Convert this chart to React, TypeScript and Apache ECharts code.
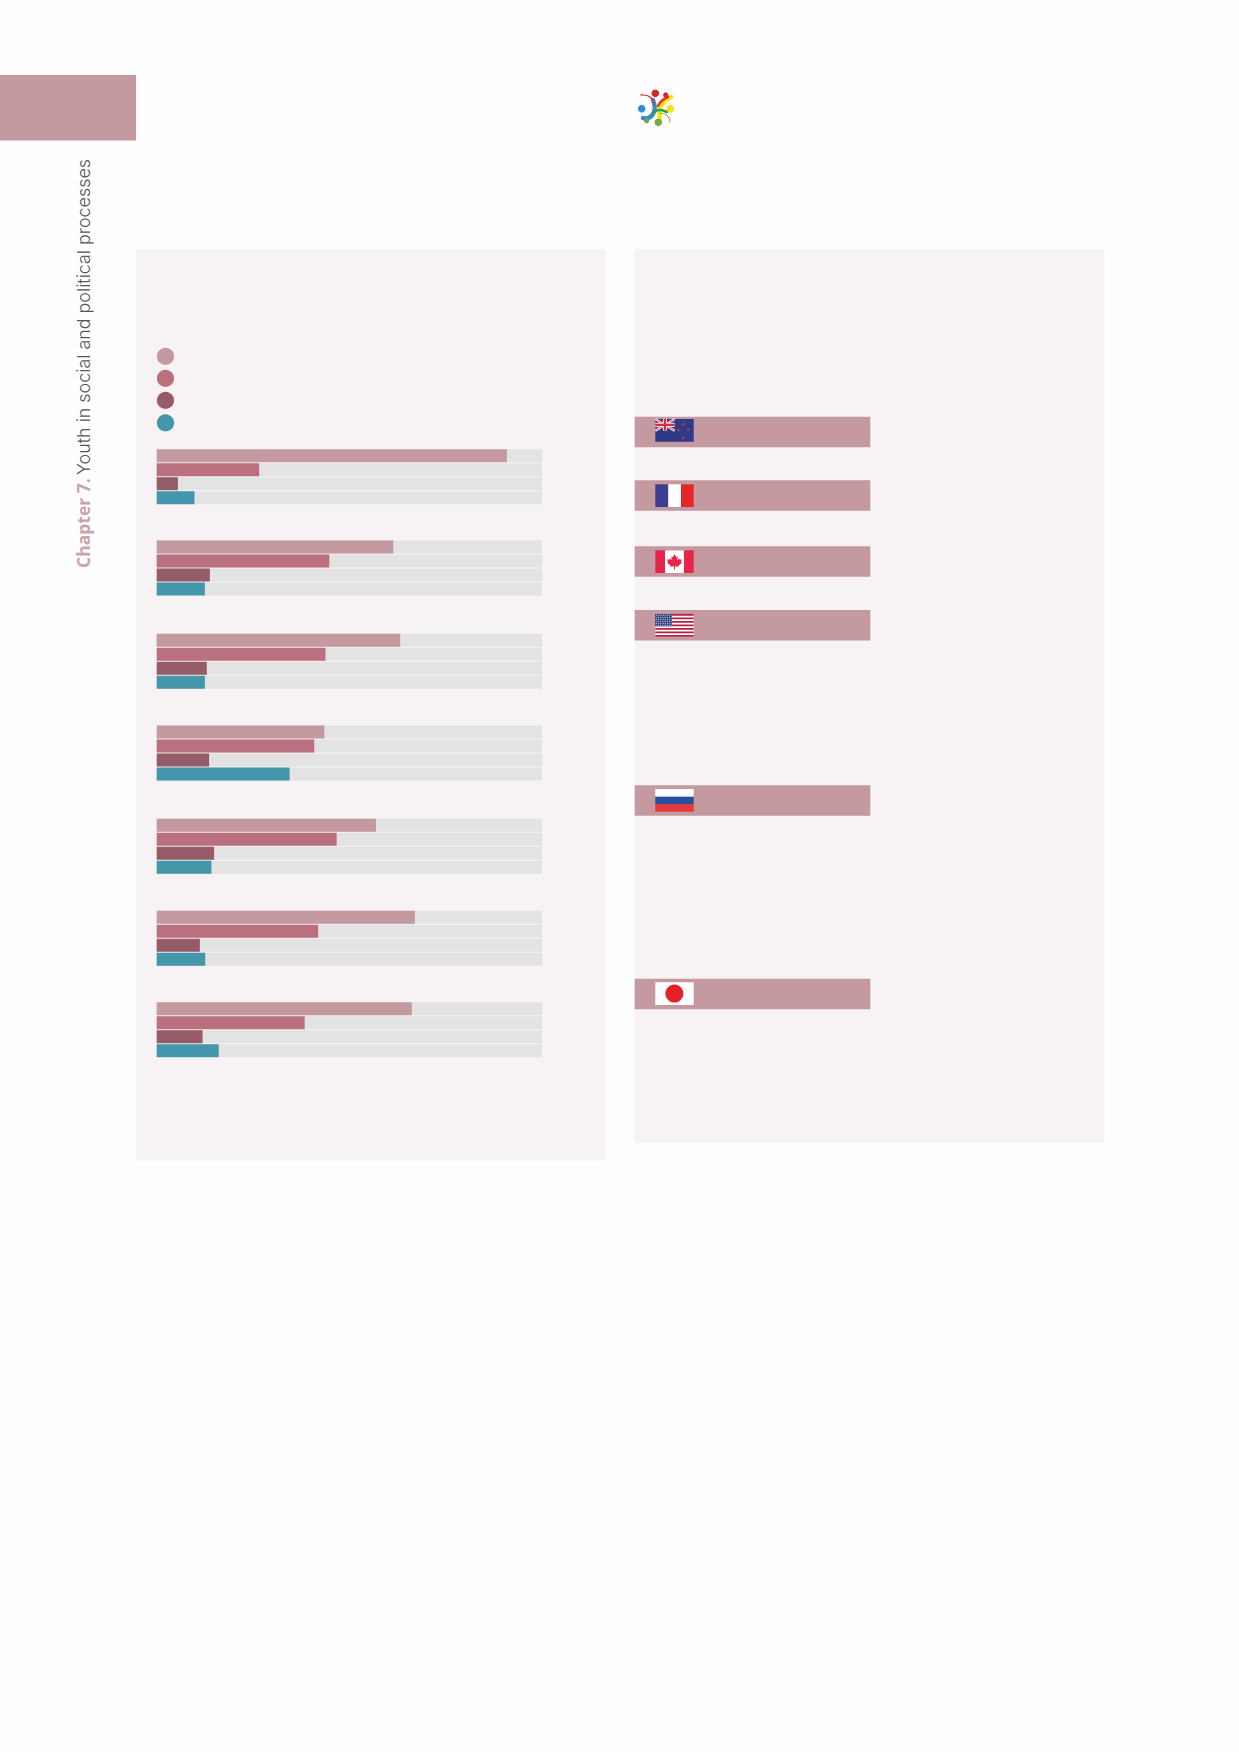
import React, { useEffect, useRef } from "react";
import * as echarts from "echarts";

const groups = ["Group 1", "Group 2", "Group 3", "Group 4", "Group 5", "Group 6", "Group 7"];
const measures = ["Measure A", "Measure B", "Measure C", "Measure D"];
const measureA = [90.9, 61.4, 63.2, 43.5, 56.9, 67.0, 66.2];
const measureB = [26.6, 44.8, 43.8, 40.9, 46.7, 41.9, 38.4];
const measureC = [5.5, 13.8, 13.0, 13.6, 14.9, 11.2, 11.9];
const measureD = [9.8, 12.5, 12.5, 34.5, 14.2, 12.6, 16.1];
const groupTops = [448.7, 540, 633.3, 725, 818.3, 910.3, 1001.8];

const COLORS = ["#c49aa0", "#bb717d", "#955b66", "#4496aa"];
const TRACK = "#e3e3e3";
const PANEL = "#f7f3f4";
const BAND = "#c49aa0";

const rect = (x: number, y: number, width: number, height: number, fill: string) => ({
  type: "rect", silent: true, shape: { x, y, width, height }, style: { fill },
});
const circle = (cx: number, cy: number, r: number, fill: string) => ({
  type: "circle", silent: true, shape: { cx, cy, r }, style: { fill },
});
const line = (x1: number, y1: number, x2: number, y2: number, stroke: string, lineWidth: number) => ({
  type: "line", silent: true, shape: { x1, y1, x2, y2 }, style: { stroke, lineWidth },
});

const FX = 655.3, FW = 38.4, FH = 22.7;

function nzFlag(y: number) {
  const w = 19.4, h = 11.7, navy = "#2f3a86", red = "#e0293a";
  const star = (x: number, yy: number) => circle(FX + x, yy, 1.3, red);
  return [
    rect(FX, y, FW, FH, navy),
    line(FX, y, FX + w, y + h, "#ffffff", 2.2),
    line(FX + w, y, FX, y + h, "#ffffff", 2.2),
    line(FX, y, FX + w, y + h, red, 0.8),
    line(FX + w, y, FX, y + h, red, 0.8),
    rect(FX + w / 2 - 2, y, 4, h, "#ffffff"),
    rect(FX, y + h / 2 - 2, w, 4, "#ffffff"),
    rect(FX + w / 2 - 1.2, y, 2.4, h, red),
    rect(FX, y + h / 2 - 1.2, w, 2.4, red),
    star(28, y + 5.3), star(23, y + 11), star(33, y + 10.3), star(28, y + 18.7),
  ];
}
function frFlag(y: number) {
  return [rect(FX, y, 13, FH, "#3c3f8f"), rect(FX + 13, y, 12.7, FH, "#ffffff"), rect(FX + 25.7, y, 12.7, FH, "#e5262b")];
}
function caFlag(y: number) {
  const red = "#e6254b";
  const cx = FX + 19.2, cy = y + 11.2;
  const leaf = [
    [0, -7.5], [1.8, -4.2], [3.2, -5], [2.6, -1.2], [4.6, -3.2], [5.2, -1.8], [7.4, -2.2], [6.6, 0.6],
    [7.4, 1.2], [4, 4], [4.4, 5.2], [0.5, 4.7], [0.5, 8], [-0.5, 8], [-0.5, 4.7], [-4.4, 5.2], [-4, 4],
    [-7.4, 1.2], [-6.6, 0.6], [-7.4, -2.2], [-5.2, -1.8], [-4.6, -3.2], [-2.6, -1.2], [-3.2, -5], [-1.8, -4.2],
  ].map(([a, b]) => [cx + a, cy + b]);
  return [
    rect(FX, y, FW, FH, red),
    rect(FX + 9.7, y, 19, FH, "#ffffff"),
    { type: "polygon", silent: true, shape: { points: leaf }, style: { fill: red } },
  ];
}
function usFlag(y: number) {
  const out: any[] = [rect(FX, y, FW, FH, "#ffffff")];
  const sh = FH / 13;
  for (let i = 0; i < 13; i += 2) out.push(rect(FX, y + i * sh, FW, sh, "#b4213f"));
  out.push(rect(FX, y, 16.7, sh * 7, "#24357a"));
  for (let r = 0; r < 6; r++) {
    for (let c = 0; c < 9; c++) {
      out.push(circle(FX + 1.2 + c * 1.8 + (r % 2 ? 0.4 : 0), y + 1.2 + r * 2, 0.52, "#dfe2ee"));
    }
  }
  return out;
}
function ruFlag(y: number) {
  return [rect(FX, y, FW, 7.7, "#ffffff"), rect(FX, y + 7.7, FW, 7.3, "#23509f"), rect(FX, y + 15, FW, 7.7, "#e23a3e")];
}
function jpFlag(y: number) {
  return [rect(FX, y, FW, FH, "#ffffff"), circle(FX + 19.1, y + 11.3, 9, "#e5202a")];
}

const curve = (p: number[], stroke: string, lineWidth: number) => ({
  type: "bezierCurve", silent: true,
  shape: { x1: p[0], y1: p[1], cpx1: p[2], cpy1: p[3], cpx2: p[4], cpy2: p[5], x2: p[6], y2: p[7] },
  style: { stroke, lineWidth, fill: "none", lineCap: "round" },
});

const logo = [
  curve([643, 118, 651, 120, 658, 112, 653, 100], "#2f8fd0", 4.4),
  curve([660, 118, 657, 108, 664, 100, 671, 97], "#fbe40e", 4.4),
  curve([652, 114, 656, 109, 661, 109, 667, 112], "#2f9e55", 2.6),
  curve([641, 95, 649, 94, 654, 99, 654, 105], "#d8343a", 1.4),
  curve([668, 97, 663, 99, 660, 102, 658, 106], "#e23b2c", 2.6),
  curve([660, 113, 666, 113, 670, 117, 670, 122], "#8ab547", 1.2),
  circle(655.3, 93.3, 3.8, "#d8262b"),
  circle(641.7, 108.7, 3.8, "#2f8fd0"),
  circle(670.3, 108.7, 3.8, "#fbe40e"),
  circle(658.3, 122.3, 3.8, "#74ae3c"),
  circle(646.7, 120.7, 2.6, "#6fa84a"),
  circle(665.7, 95, 2.6, "#d8262b"),
];

const bands = [
  { y: 416.7, flag: nzFlag(419) },
  { y: 480.3, flag: frFlag(484.3) },
  { y: 546.2, flag: caFlag(550.3) },
  { y: 610, flag: usFlag(614) },
  { y: 785.3, flag: ruFlag(789) },
  { y: 978.7, flag: jpFlag(982.3) },
];

const legendYs = [356.4, 378.4, 400.4, 422.9];

export default function App() {
  const ref = useRef<HTMLDivElement>(null);
  useEffect(() => {
    document.body.style.margin = "0";
    document.body.style.background = "#fefefe";
    const chart = echarts.init(ref.current!, null, { renderer: "svg" });
    const elements: any[] = [
      rect(0, 75, 136, 65.5, BAND),
      rect(136, 249, 469.6, 911.5, PANEL),
      rect(634.7, 249, 469.5, 894, PANEL),
      ...logo,
      ...legendYs.map((y, i) => circle(165.5, y, 8.6, COLORS[i])),
    ];
    bands.forEach((b) => {
      elements.push(rect(634.7, b.y, 235.6, 30.5, BAND));
      elements.push(...b.flag);
    });
    elements.push({
      type: "text",
      silent: true,
      x: 83,
      y: 568,
      rotation: Math.PI / 2,
      style: {
        text: "{a|Chapter 7.} {b|Youth in social and political processes}",
        align: "left",
        verticalAlign: "middle",
        rich: {
          a: { fontFamily: "Open Sans", fontWeight: 700, fontSize: 17.5, fill: "#c9a4aa" },
          b: { fontFamily: "Inter", fontWeight: 300, fontSize: 17.9, fill: "#55565a" },
        },
      },
    });
    chart.setOption({
      animation: false,
      backgroundColor: "#fefefe",
      graphic: { elements },
      grid: groups.map((_, i) => ({
        left: 156.7, width: 385.3, top: groupTops[i], height: 56, containLabel: false,
      })),
      xAxis: groups.map((_, i) => ({ type: "value", gridIndex: i, min: 0, max: 100, show: false })),
      yAxis: groups.map((_, i) => ({ type: "category", gridIndex: i, data: measures, inverse: true, show: false })),
      series: groups.map((name, i) => ({
        type: "bar",
        name,
        xAxisIndex: i,
        yAxisIndex: i,
        barWidth: 13,
        showBackground: true,
        backgroundStyle: { color: TRACK },
        data: [measureA[i], measureB[i], measureC[i], measureD[i]].map((value, k) => ({
          value,
          itemStyle: { color: COLORS[k] },
        })),
      })),
    });
    return () => chart.dispose();
  }, []);
  return <div ref={ref} style={{ position: "absolute", left: 0, top: 0, width: 1239, height: 1752 }} />;
}
